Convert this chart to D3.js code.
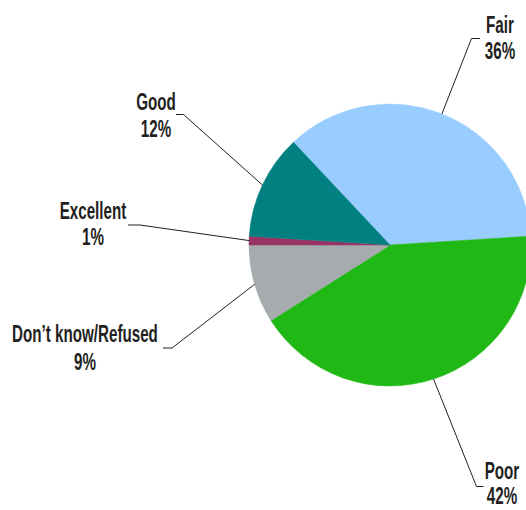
<!DOCTYPE html>
<html>
<head>
<meta charset="utf-8">
<script src="https://cdn.jsdelivr.net/npm/d3@7"></script>
<style>
  html, body { margin: 0; padding: 0; background: #fff; overflow: hidden; }
  svg { display: block; }
  .lbl { font-family: "Liberation Sans", Arial, sans-serif; font-weight: bold; font-size: 23px; fill: #231f20; }
</style>
</head>
<body>
<svg id="chart" width="526" height="510"></svg>
<script>
// Survey ratings, in drawing order clockwise
const categories = ["Fair", "Poor", "Don\u2019t know/Refused", "Excellent", "Good"];
const values = [36, 42, 9, 1, 12];
const colors = ["#99ccff", "#20b815", "#a6abad", "#993366", "#008080"];

// Label anchors (text centre x, first line y, line gap) and leader elbow for each slice
const labelLayout = [
  { x: 500, y: 25, gap: 25.5, elbow: [471.5, 38.5], tail: 480 },
  { x: 502, y: 470.5, gap: 25, elbow: [476.5, 486.5], tail: 483.5 },
  { x: 85, y: 333.5, gap: 28, elbow: [172, 348], tail: 163 },
  { x: 93, y: 211, gap: 25.5, elbow: [140, 225], tail: 128 },
  { x: 156, y: 102, gap: 26.5, elbow: [183.5, 114.5], tail: 176 }
];

const svg = d3.select("#chart");
const cx = 390, cy = 245, r = 141;
const startDeg = -43.2;

const pie = d3.pie()
  .value(d => d.value)
  .sort(null)
  .startAngle(startDeg * Math.PI / 180)
  .endAngle((startDeg + 360) * Math.PI / 180);

const data = categories.map((c, i) => ({ name: c, value: values[i], color: colors[i], layout: labelLayout[i] }));
const arcs = pie(data);
const arc = d3.arc().innerRadius(0).outerRadius(r);

const g = svg.append("g").attr("transform", `translate(${cx},${cy})`);
g.selectAll("path.slice")
  .data(arcs)
  .join("path")
  .attr("class", "slice")
  .attr("d", arc)
  .attr("fill", d => d.data.color)
  .attr("stroke", d => d.data.color)
  .attr("stroke-width", 0.5);

// Leader lines from slice edge to the label
const edgePoint = d => {
  const a = (d.startAngle + d.endAngle) / 2;
  return [cx + r * Math.sin(a), cy - r * Math.cos(a)];
};

svg.selectAll("path.leader")
  .data(arcs)
  .join("path")
  .attr("class", "leader")
  .attr("fill", "none")
  .attr("stroke", "#231f20")
  .attr("stroke-width", 1)
  .attr("d", d => {
    const p = edgePoint(d), L = d.data.layout;
    return d3.line()([p, L.elbow, [L.tail, L.elbow[1]]]);
  });

// Two-line labels: name and percentage, set in a condensed style
const sx = 0.66;
const labels = svg.selectAll("g.label")
  .data(arcs)
  .join("g")
  .attr("class", "label")
  .attr("transform", d => `translate(${d.data.layout.x},${d.data.layout.y}) scale(${sx},1)`);

labels.append("text")
  .attr("class", "lbl")
  .attr("text-anchor", "middle")
  .attr("dy", "0.36em")
  .text(d => d.data.name);

labels.append("text")
  .attr("class", "lbl")
  .attr("text-anchor", "middle")
  .attr("y", d => d.data.layout.gap)
  .attr("dy", "0.36em")
  .text(d => d.data.value + "%");
</script>
</body>
</html>
